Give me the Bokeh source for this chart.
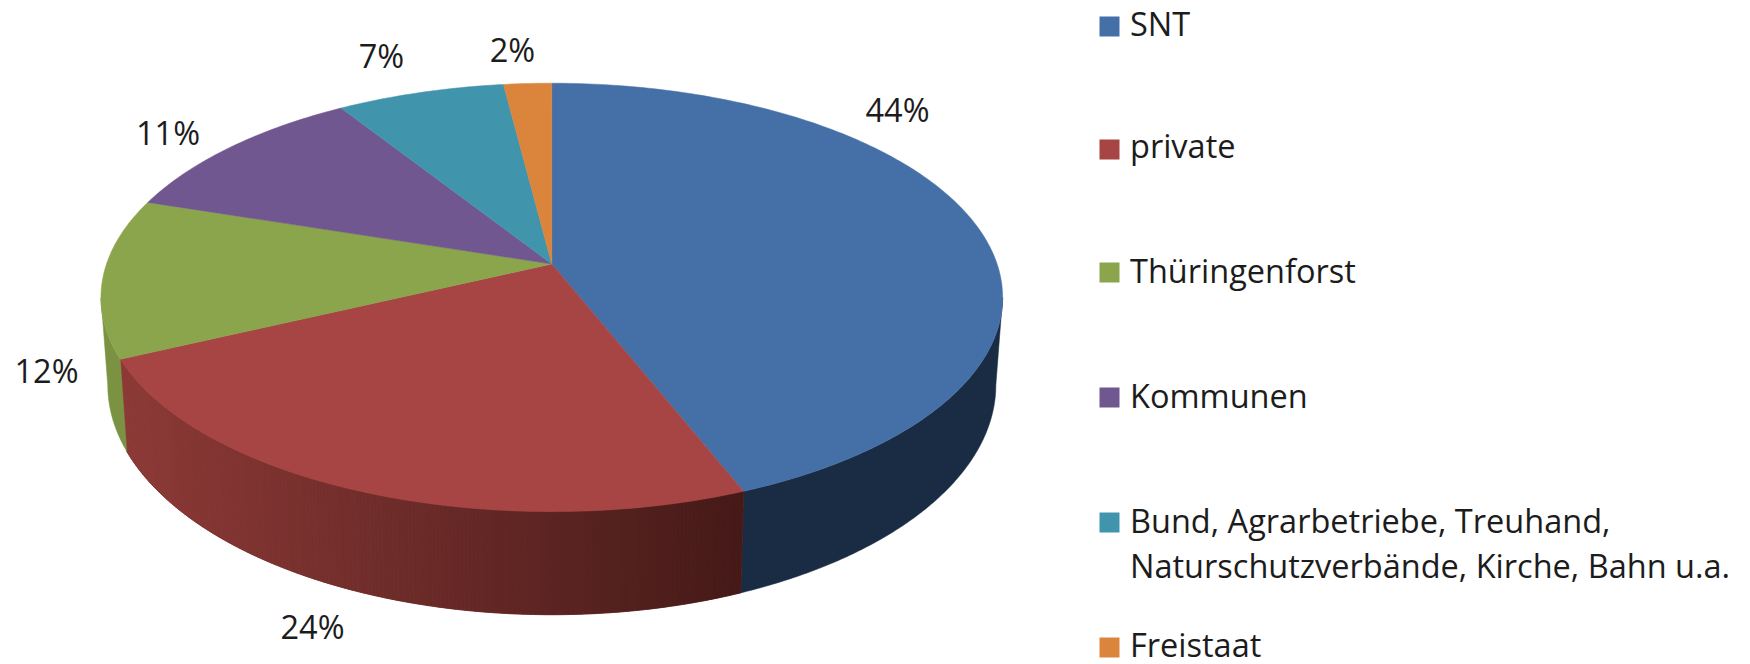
import numpy as np
from bokeh.core.properties import value
from bokeh.embed import file_html
from bokeh.models import Range1d
from bokeh.plotting import figure
from bokeh.resources import INLINE

# ---- data ----
categories = ["SNT", "private", "Thüringenforst", "Kommunen",
              "Bund, Agrarbetriebe, Treuhand,\nNaturschutzverbände, Kirche, Bahn u.a.",
              "Freistaat"]
shares = [44, 24, 12, 11, 7, 2]

# ---- style ----
top_colors = ["#4570a7", "#a64543", "#8aa54c", "#71578f", "#4095ad", "#db843c"]
side_left = ["#1a2c44", "#8e3b38", "#7a9242", "#4f3d64", "#2d6879", "#995c2a"]
side_right = ["#1a2c44", "#451a18", "#7a9242", "#4f3d64", "#2d6879", "#995c2a"]
FONT = "Open Sans"
FS = "32.5px"
TXT = "#1c1c1c"

# ---- layout: page pixels ----
W, H = 1750, 664
CX, CY = 551.3, 263.5          # apex of the pie on the page
A, B, K = 209.0, 445.3, 0.156  # perspective of the top disc
SX, SY, DROP = 0.985, 1.073, 85.0  # lower disc relative to the top disc
TEXT_SHIFT = -15               # svg text sits this much low with an alphabetic baseline
label_x = [897, 312, 46, 167.5, 381, 512]
label_y = [124, 641, 385, 147, 70, 64]
legend_x0, legend_x1 = 1099, 1119
legend_text_x = 1129.5
legend_cy = [26, 149, 272, 397, 522, 647]
legend_base = [[38], [160], [284.5], [409.5], [534.5], [659]]
legend_base[4].append(580)


def rim(theta):
    u, v = np.sin(theta), np.cos(theta)
    w = 1 + K * v
    return B * u / w, -A * v / w


p = figure(width=W, height=H, x_range=Range1d(0, W), y_range=Range1d(H, 0),
           output_backend="svg", toolbar_location=None, min_border=0)
p.axis.visible = False
p.grid.visible = False
p.outline_line_color = None
p.background_fill_color = "white"
p.border_fill_color = "white"

fr = np.cumsum([0] + shares) / sum(shares) * 2 * np.pi


def hex_rgb(c):
    return np.array([int(c[i:i + 2], 16) for i in (1, 3, 5)], dtype=float)


# side wall, only on the part of the rim that faces the viewer
for i in range(len(shares)):
    th = np.linspace(fr[i], fr[i + 1], max(4, int(shares[i] * 8)) + 1)
    th = th[np.cos(th) <= -K]
    if len(th) < 2:
        continue
    X, Y = rim(th)
    X1, Y1 = X * SX, Y * SY + DROP
    mid = (hex_rgb(side_left[i]) + hex_rgb(side_right[i])) / 2
    base = "#%02x%02x%02x" % tuple(int(round(c)) for c in mid)
    p.patch(CX + np.r_[X, X1[::-1]], CY + np.r_[Y, Y1[::-1]], fill_color=base,
            line_color=base, line_width=0.5)
    if side_left[i] != side_right[i]:
        xs, ys, cols = [], [], []
        x_lo, x_hi = (X1 + CX).min(), (X1 + CX).max()
        for j in range(len(th) - 1):
            t = ((X1[j] + X1[j + 1]) / 2 + CX - x_lo) / max(x_hi - x_lo, 1)
            rgb = hex_rgb(side_left[i]) * (1 - t) + hex_rgb(side_right[i]) * t
            cols.append("#%02x%02x%02x" % tuple(int(round(c)) for c in rgb))
            xs.append(list(CX + np.array([X[j], X[j + 1], X1[j + 1], X1[j]])))
            ys.append(list(CY + np.array([Y[j], Y[j + 1], Y1[j + 1], Y1[j]])))
        p.patches(xs, ys, fill_color=cols, line_color=cols, line_width=0.6)

# top faces
for i in range(len(shares)):
    th = np.linspace(fr[i], fr[i + 1], max(8, shares[i] * 4))
    X, Y = rim(th)
    p.patch(np.r_[CX, CX + X], np.r_[CY, CY + Y], fill_color=top_colors[i],
            line_color=top_colors[i], line_width=0.5)

# data labels
p.text(label_x, [y + TEXT_SHIFT for y in label_y], text=[f"{s}%" for s in shares],
       text_font=value(FONT), text_font_size=value(FS), text_color=TXT, text_align="center",
       text_baseline="alphabetic")

# legend
for i, name in enumerate(categories):
    p.quad(left=[legend_x0], right=[legend_x1], top=[legend_cy[i] - 10],
           bottom=[legend_cy[i] + 10], fill_color=top_colors[i], line_color=None)
    for line, base in zip(name.split("\n"), legend_base[i]):
        p.text([legend_text_x], [base + TEXT_SHIFT], text=[line], text_font=value(FONT),
               text_font_size=value(FS), text_color=TXT, text_align="left",
               text_baseline="alphabetic")

open("out.html", "w").write(file_html(p, INLINE))
